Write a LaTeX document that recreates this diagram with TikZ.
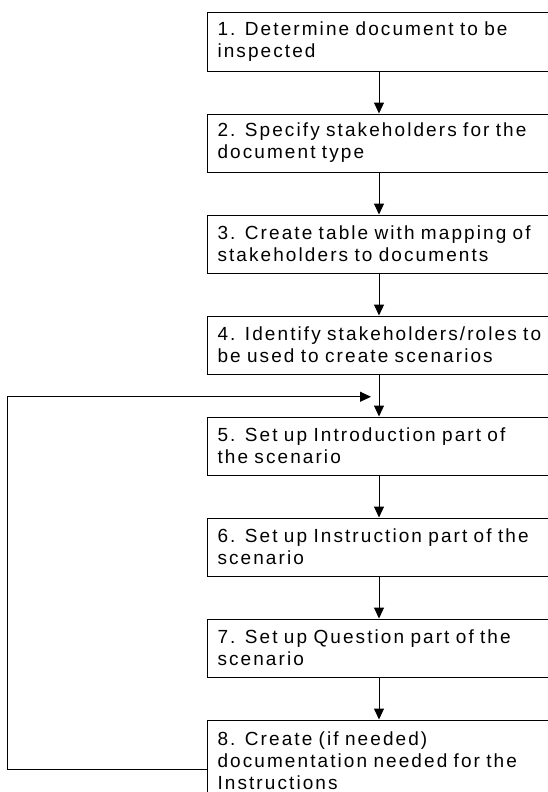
\documentclass[tikz,border=0pt]{standalone}
\usepackage{fontspec}
\setmainfont{Liberation Sans}[LetterSpace=11]
\usetikzlibrary{positioning}
\usetikzlibrary{calc}
\usetikzlibrary{arrows.meta}
\tikzset{>={Triangle[length=11pt,width=10pt]}}
\tikzstyle{line} = [draw, line width=1pt, ->]

\begin{document}
\begin{tikzpicture}[x=1pt, y=1pt, node distance=42pt,
	stepbox/.style={draw, line width=1pt, rectangle, text width=323pt,
		inner xsep=10pt, minimum height=58pt, align=left,
		font=\fontsize{19}{22}\selectfont}]
	\useasboundingbox (0,0) rectangle (547,-792);
	\node [stepbox, anchor=north west] (S1) at (207,-12.5) {1. Determine document to be\\inspected};
	\node [stepbox, below=of S1] (S2) {2. Specify stakeholders for the\\document type};
	\node [stepbox, below=of S2] (S3) {\mbox{3. Create table with mapping of}\\stakeholders to documents};
	\node [stepbox, below=of S3] (S4) {\mbox{4. Identify stakeholders/roles to}\\be used to create scenarios};
	\node [stepbox, below=of S4] (S5) {5. Set up Introduction part of\\the scenario};
	\node [stepbox, below=of S5] (S6) {\mbox{6. Set up Instruction part of the}\\scenario};
	\node [stepbox, below=of S6] (S7) {7. Set up Question part of the\\scenario};
	\node [stepbox, below=of S7, minimum height=81pt] (S8) {8. Create (if needed)\\documentation needed for the\\Instructions};
	%% Steps
	\path [line] (S1) -- (S2);
	\path [line] (S2) -- (S3);
	\path [line] (S3) -- (S4);
	\path [line] (S4) -- (S5);
	\path [line] (S5) -- (S6);
	\path [line] (S6) -- (S7);
	\path [line] (S7) -- (S8);
	%% Loop back to step 5
	\coordinate (Join) at ($(S4.south)!0.53!(S5.north)$);
	\coordinate (LoopEnd) at ([xshift=-8pt]Join);
	\coordinate (LoopStart) at ([yshift=-9pt]S8.west);
	\coordinate (Corner) at (7.5,0);
	\path [line] (LoopStart) -| (Corner |- Join) -- (LoopEnd);
\end{tikzpicture}
\end{document}
